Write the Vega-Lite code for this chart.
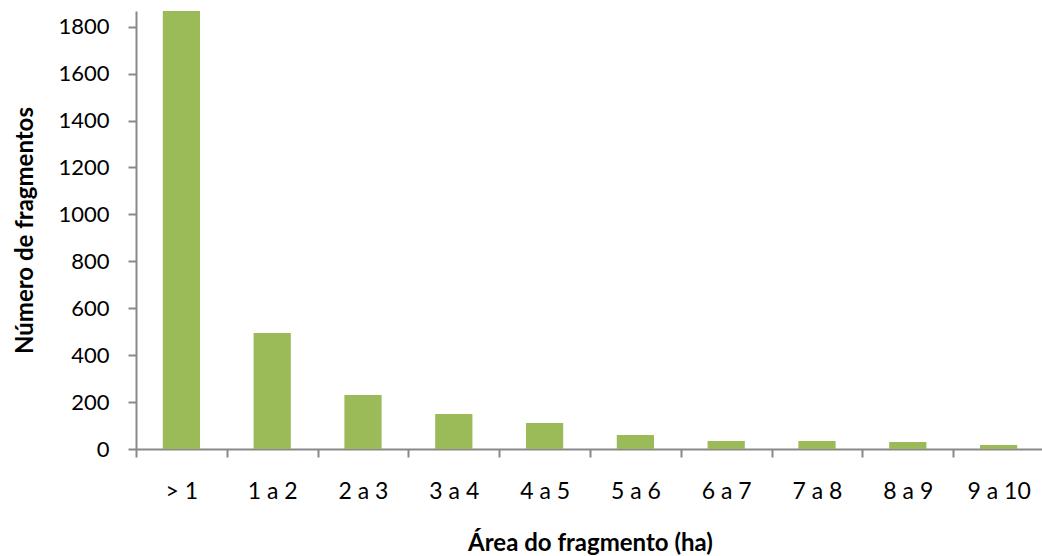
{
  "$schema": "https://vega.github.io/schema/vega-lite/v6.json",
  "width": 908,
  "height": 438,
  "autosize": {"type": "none"},
  "padding": {"left": 136, "top": 11, "right": 0, "bottom": 107},
  "background": "white",
  "config": {
    "view": {"stroke": null},
    "font": "Lato"
  },
  "data": {
    "values": [
      {"area": "> 1", "n": 1867},
      {"area": "1 a 2", "n": 494},
      {"area": "2 a 3", "n": 230},
      {"area": "3 a 4", "n": 149},
      {"area": "4 a 5", "n": 111},
      {"area": "5 a 6", "n": 60},
      {"area": "6 a 7", "n": 34},
      {"area": "7 a 8", "n": 34},
      {"area": "8 a 9", "n": 30},
      {"area": "9 a 10", "n": 17}
    ]
  },
  "mark": {"type": "bar", "color": "#9BBB59", "width": {"band": 0.41}},
  "encoding": {
    "x": {
      "field": "area",
      "type": "nominal",
      "sort": null,
      "scale": {"paddingInner": 0, "paddingOuter": 0},
      "axis": {
        "title": "Área do fragmento (ha)",
        "titleFont": "Lato",
        "titleFontSize": 24,
        "titleFontWeight": "bold",
        "titleColor": "#000000",
        "titlePadding": 28,
        "labelAngle": 0,
        "labelFont": "Lato",
        "labelFontSize": 23,
        "labelColor": "#000000",
        "labelPadding": 23,
        "tickBand": "extent",
        "tickSize": 8,
        "tickWidth": 2,
        "tickColor": "#898989",
        "domainColor": "#898989",
        "domainWidth": 2,
        "grid": false
      }
    },
    "y": {
      "field": "n",
      "type": "quantitative",
      "scale": {"domain": [0, 1867], "nice": false},
      "axis": {
        "title": "Número de fragmentos",
        "titleFont": "Lato",
        "titleFontSize": 24,
        "titleFontWeight": "bold",
        "titleColor": "#000000",
        "titlePadding": 20,
        "values": [0, 200, 400, 600, 800, 1000, 1200, 1400, 1600, 1800],
        "format": "d",
        "labelFont": "Lato",
        "labelFontSize": 22,
        "labelColor": "#000000",
        "labelPadding": 19,
        "tickSize": 8,
        "tickWidth": 2,
        "tickColor": "#898989",
        "domainColor": "#898989",
        "domainWidth": 2,
        "grid": false
      }
    }
  }
}
